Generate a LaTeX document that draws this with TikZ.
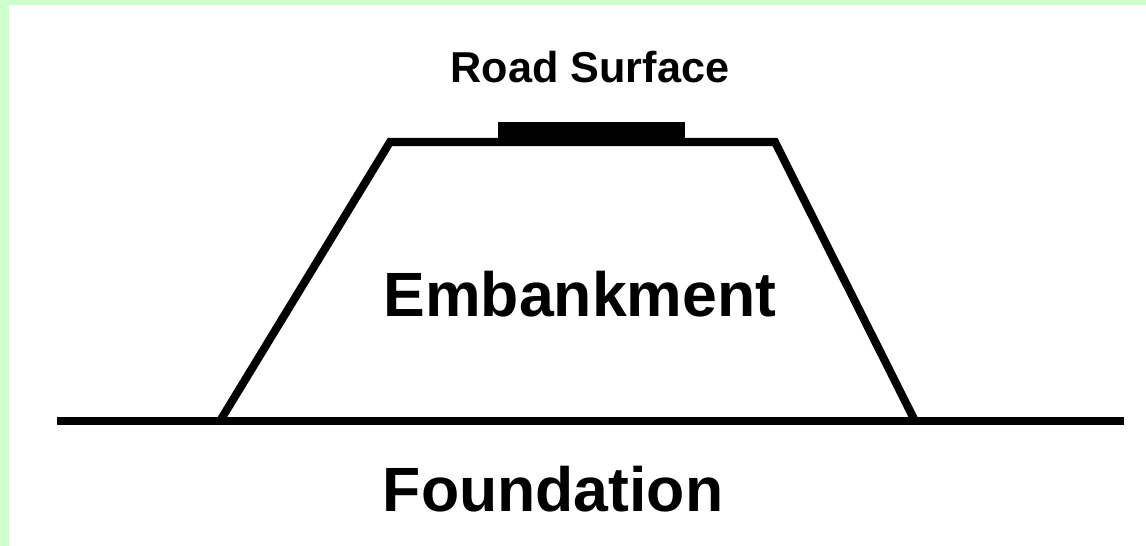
\documentclass[tikz,border=0pt]{standalone}
\usepackage{fontspec}
\setmainfont{Liberation Sans}
\definecolor{framegreen}{HTML}{CCFFCC}
\begin{document}
\begin{tikzpicture}[x=0.02cm,y=-0.02cm,
  labelbig/.style={inner sep=0pt,anchor=base,font=\fontsize{35.6}{40}\selectfont\bfseries},
  labelsmall/.style={inner sep=0pt,anchor=base,font=\fontsize{24.6}{28}\selectfont\bfseries},
  bankline/.style={line width=4.6pt,line join=miter,black},
  groundline/.style={line width=5pt,black}]
\fill[framegreen] (0,0) rectangle (1146,546);
\fill[white] (9,5) rectangle (1146,546);
\useasboundingbox (0,0) rectangle (1146,546);
% coordinates
\coordinate (gl) at (57,421);
\coordinate (gr) at (1124,421);
\coordinate (bl) at (220,421);
\coordinate (tl) at (390,142);
\coordinate (tr) at (775,142);
\coordinate (br) at (915,421);
% ground
\draw[groundline] (gl) -- (gr);
% embankment
\draw[bankline] (bl) -- (tl) -- (tr) -- (br);
% road surface
\fill[black] (498,122) rectangle (685,144);
% labels
\node[labelsmall] (road) at (590,83) {Road Surface};
\node[labelbig] (emb) at (580,317) {Embankment};
\node[labelbig] (found) at (553,512) {Foundation};
\end{tikzpicture}
\end{document}
